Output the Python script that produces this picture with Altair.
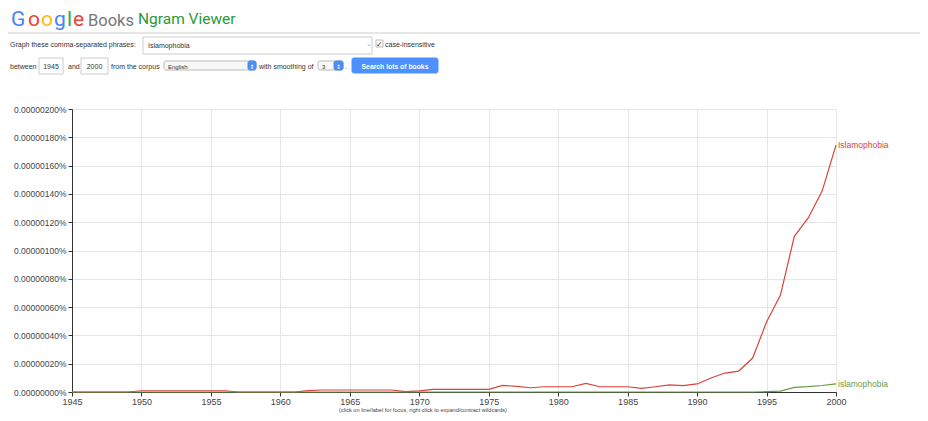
import altair as alt
import pandas as pd

# ---- data ----
years = list(range(1945, 2001))
# values in units of 1e-6 percent
upper_case = [0, 0, 0, 0, 0,
              0.009, 0.009, 0.009, 0.009, 0.009, 0.009, 0.009,
              0, 0, 0, 0, 0,
              0.010, 0.014, 0.014, 0.014, 0.014, 0.014, 0.014,
              0.002, 0.008,
              0.019, 0.019, 0.019, 0.019, 0.019,
              0.047, 0.040, 0.030, 0.037, 0.037, 0.037, 0.061,
              0.037, 0.037, 0.037, 0.026, 0.037, 0.050, 0.045,
              0.057, 0.099, 0.134, 0.148, 0.240, 0.495, 0.685,
              1.100, 1.230, 1.420, 1.745]
lower_case = [0] * 50 + [0.002, 0.006, 0.033, 0.038, 0.046, 0.057]
series_names = ["Islamophobia", "islamophobia"]
series_colors = ["#d9433a", "#6a9a48"]
y_ticks = [0, 0.2, 0.4, 0.6, 0.8, 1.0, 1.2, 1.4, 1.6, 1.8, 2.0]
x_ticks = list(range(1945, 2001, 5))

rows = []
for name, vals in zip(series_names, [upper_case, lower_case]):
    for yr, v in zip(years, vals):
        rows.append({"year": yr, "value": v, "phrase": name})
df = pd.DataFrame(rows)

FONT = "Liberation Sans"
color_scale = alt.Scale(domain=series_names, range=series_colors)

x_enc = alt.X("year:Q", scale=alt.Scale(domain=[1945, 2000], nice=False, zero=False),
              axis=alt.Axis(values=x_ticks, tickCount=len(x_ticks), format="d", title=None,
                            grid=True, gridColor="#e6e6e6", domainColor="#333",
                            tickColor="#333", tickSize=4, labelFont=FONT, labelFontSize=9,
                            labelColor="#444", labelPadding=1, labelFlush=False,
                            labelOverlap=False))
y_enc = alt.Y("value:Q", scale=alt.Scale(domain=[0, 2.0], nice=False),
              axis=alt.Axis(values=y_ticks, tickCount=len(y_ticks), title=None, grid=True,
                            gridColor="#e6e6e6", domainColor="#333", tickColor="#333",
                            tickSize=4, labelFont=FONT, labelFontSize=8.5,
                            labelColor="#444", labelPadding=2, labelOverlap=False,
                            labelExpr="format(datum.value * 0.000001, '.8f') + '%'"))

lines = alt.Chart(df).mark_line(strokeWidth=1.2, clip=False).encode(
    x=x_enc, y=y_enc,
    color=alt.Color("phrase:N", scale=color_scale, legend=None),
    order=alt.Order("year:Q"),
)

ends = alt.Chart(df).transform_filter("datum.year == 2000").mark_text(
    align="left", baseline="middle", dx=2, font=FONT, fontSize=8.5
).encode(
    x="year:Q", y="value:Q", text="phrase:N",
    color=alt.Color("phrase:N", scale=color_scale, legend=None),
)

one = alt.Data(values=[{"a": 1}])
OX, OY = 72, 109  # page position of the plot origin


def txt(s, x, y, size=7, color="#333", weight="normal", align="left", font=FONT):
    return alt.Chart(one).mark_text(
        text=s, align=align, baseline="alphabetic", fontSize=size, color=color,
        fontWeight=weight, font=font, clip=False
    ).encode(x=alt.value(x - OX), y=alt.value(y - OY))


def box(x1, y1, x2, y2, fill="white", stroke="#ccc", r=0):
    return alt.Chart(one).mark_rect(
        fill=fill, stroke=stroke, strokeWidth=1, cornerRadius=r, clip=False
    ).encode(x=alt.value(x1 - OX), x2=alt.value(x2 - OX),
             y=alt.value(y1 - OY), y2=alt.value(y2 - OY))


def hline(x1, x2, y, color="#ccc"):
    return alt.Chart(one).mark_rule(color=color, strokeWidth=1, clip=False).encode(
        x=alt.value(x1 - OX), x2=alt.value(x2 - OX), y=alt.value(y - OY))


G = "Roboto"
deco = [
    txt("G", 11, 26, 21, "#4285F4", font=G),
    txt("o", 28, 26, 21, "#EA4335", font=G),
    txt("o", 41, 26, 21, "#FBBC05", font=G),
    txt("g", 54, 26, 21, "#4285F4", font=G),
    txt("l", 67, 26, 21, "#34A853", font=G),
    txt("e", 73, 26, 21, "#EA4335", font=G),
    txt("Books", 88, 26, 16.5, "#777777", font=G),
    txt("Ngram Viewer", 138, 24, 15.5, "#2a9a33", font=G),
    hline(8, 922, 33),
    txt("Graph these comma-separated phrases:", 10, 47, 7),
    box(143, 37, 372, 54),
    txt("Islamophobia", 148, 48, 7),
    txt("⌄", 366, 46, 7, "#aaa", font="DejaVu Sans"),
    box(376, 40, 383, 47, "white", "#bbb"),
    txt("✓", 376, 47, 8, "#333", font="DejaVu Sans"),
    txt("case-insensitive", 385, 47, 7),
    txt("between", 10, 69, 7),
    box(39, 58, 63, 74),
    txt("1945", 51, 69, 7, align="center"),
    txt("and", 68, 69, 7),
    box(81, 58, 108, 74),
    txt("2000", 94.5, 69, 7, align="center"),
    txt("from the corpus", 111, 69, 7),
    box(164, 61, 256, 70, "#f8f8f8", "#bbb", 2),
    box(248, 61, 256, 70, "#4a8cf0", "#4a8cf0", 2),
    txt("⇕", 252, 68.5, 6, "white", align="center", font="DejaVu Sans"),
    txt("English", 168, 68.5, 6),
    txt("with smoothing of", 259, 69, 7),
    box(318, 61, 343, 70, "#f8f8f8", "#bbb", 2),
    box(334, 61, 343, 70, "#4a8cf0", "#4a8cf0", 2),
    txt("⇕", 338.5, 68.5, 6, "white", align="center", font="DejaVu Sans"),
    txt("3", 322, 68.5, 6),
    txt(".", 345, 69, 7),
    box(352, 58, 438, 73, "#4d90fe", "#4d90fe", 2),
    txt("Search lots of books", 395, 68.5, 6.8, "white", "bold", "center"),
    txt("(click on line/label for focus, right click to expand/contract wildcards)",
        423, 412, 5.6, "#444", align="center"),
]

chart = alt.layer(lines, ends, *deco).properties(
    width=764, height=283,
    autosize=alt.AutoSizeParams(type="none"),
    padding={"left": 64, "top": 101, "right": 84, "bottom": 21},
    background="white",
).configure_view(stroke=None)

chart.save("out.html", embed_options={"renderer": "svg", "actions": False})
